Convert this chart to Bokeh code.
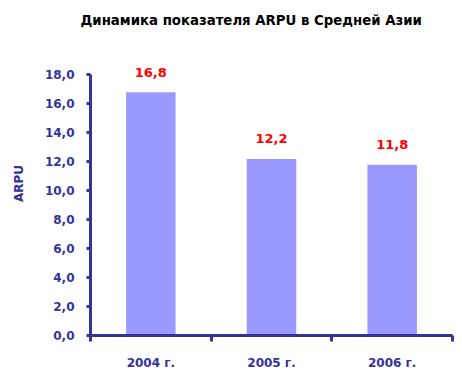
from bokeh.plotting import figure
from bokeh.models import Range1d, FixedTicker, ColumnDataSource, LabelSet
from bokeh.core.properties import value
from bokeh.embed import file_html
from bokeh.resources import INLINE

categories = ["2004 г.", "2005 г.", "2006 г."]
arpu = [16.8, 12.2, 11.8]
value_labels = ["16,8", "12,2", "11,8"]
y_ticks = [0, 2, 4, 6, 8, 10, 12, 14, 16, 18]
y_tick_labels = ["0,0", "2,0", "4,0", "6,0", "8,0", "10,0", "12,0", "14,0", "16,0", "18,0"]
title_text = "Динамика показателя ARPU в Средней Азии"
y_label = "ARPU"

NAVY = "#333399"
FONT = "DejaVu Sans"

xs = [i + 0.5 for i in range(len(categories))]
bounds = list(range(len(categories) + 1))

p = figure(width=460, height=382, output_backend="svg", toolbar_location=None,
           x_range=Range1d(0, len(categories)), y_range=Range1d(0, 21),
           min_border_left=90, min_border_right=8, min_border_top=31, min_border_bottom=47)
p.outline_line_color = None
p.xgrid.visible = False
p.ygrid.visible = False

src = ColumnDataSource(dict(x=xs, top=arpu, lab=value_labels))
p.vbar(x="x", top="top", width=0.41, bottom=0, source=src,
       fill_color="#9999FF", line_color=None)

labels = LabelSet(x="x", y="top", text="lab", source=src, y_offset=20,
                  text_align="center", text_baseline="middle",
                  text_color="#FF0000", text_font=value(FONT),
                  text_font_size="13px", text_font_style="bold")
p.add_layout(labels)

# title
p.title.text = title_text
p.title.align = "left"
p.title.offset = -10
p.title.standoff = 8
p.title.text_font = FONT
p.title.text_font_size = "13.3px"
p.title.text_font_style = "bold"
p.title.text_color = "black"

# y axis
ya = p.yaxis[0]
ya.ticker = FixedTicker(ticks=y_ticks)
ya.bounds = (0, 18)
ya.major_label_overrides = {t: l for t, l in zip(y_ticks, y_tick_labels)}
ya.axis_line_color = NAVY
ya.axis_line_width = 3
ya.major_tick_line_color = NAVY
ya.major_tick_line_width = 3
ya.major_tick_out = 4
ya.major_tick_in = 0
ya.minor_tick_line_color = None
ya.major_label_standoff = 12
ya.major_label_text_font = FONT
ya.major_label_text_font_size = "12px"
ya.major_label_text_font_style = "bold"
ya.major_label_text_color = NAVY
ya.axis_label = y_label
ya.axis_label_text_font = FONT
ya.axis_label_text_font_size = "12px"
ya.axis_label_text_font_style = "bold"
ya.axis_label_text_color = NAVY
ya.axis_label_standoff = 16

# x axis
xa = p.xaxis[0]
xa.ticker = FixedTicker(ticks=xs, minor_ticks=bounds)
xa.major_label_overrides = {x: c for x, c in zip(xs, categories)}
xa.axis_line_color = NAVY
xa.axis_line_width = 3
xa.major_tick_line_color = None
xa.major_tick_out = 0
xa.major_tick_in = 0
xa.minor_tick_line_color = NAVY
xa.minor_tick_line_width = 3
xa.minor_tick_out = 6
xa.minor_tick_in = 0
xa.major_label_standoff = 14
xa.major_label_text_font = FONT
xa.major_label_text_font_size = "12px"
xa.major_label_text_font_style = "bold"
xa.major_label_text_color = NAVY

open("out.html", "w").write(file_html(p, INLINE))
